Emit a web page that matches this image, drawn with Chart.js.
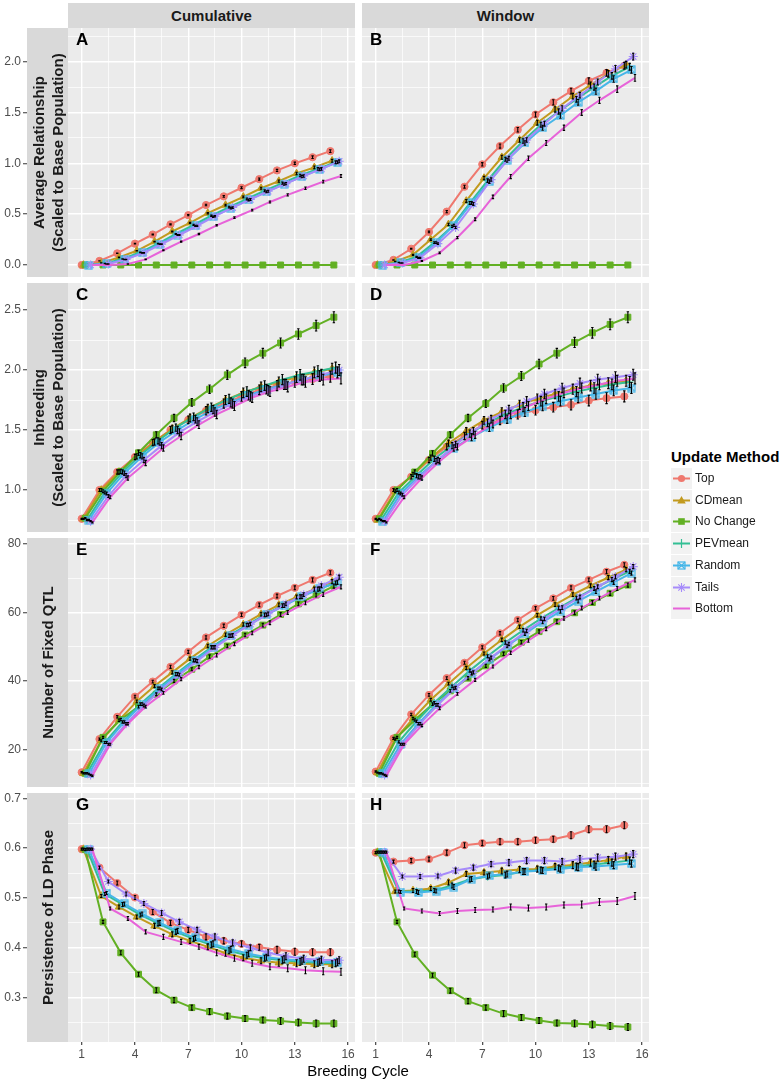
<!DOCTYPE html>
<html>
<head>
<meta charset="utf-8">
<script src="https://cdn.jsdelivr.net/npm/chart.js@4.4.1/dist/chart.umd.min.js"></script>
<style>
  body { margin: 0; background: #fff; font-family: 'Liberation Sans', Arial, sans-serif; }
  #page { position: relative; width: 783px; height: 1083px; overflow: hidden; background: #fff; }
  #page canvas { position: absolute; }
  .strip { position: absolute; background: #D9D9D9; color: #1A1A1A; font-weight: bold; font-size: 15px;
           display: flex; align-items: center; justify-content: center; text-align: center; }
  .vstrip { line-height: 19px; transform: rotate(-90deg); background: none; }
  .letter { position: absolute; font-weight: bold; font-size: 17px; line-height: 17px; color: #000; }
  .legend-title { position: absolute; left: 671px; top: 448px; font-weight: bold; font-size: 15px; line-height: 18px; color: #000; }
  .legend-item { position: absolute; left: 671px; height: 21px; font-size: 12px; line-height: 21px; color: #1A1A1A; white-space: nowrap; }
  .legend-item svg { position: absolute; left: 0; top: 0; }
  .legend-item span { position: absolute; left: 24px; top: 0; }
  .xtitle { position: absolute; left: 258px; width: 200px; top: 1062px; text-align: center; font-size: 15px; line-height: 18px; color: #000; }
</style>
</head>
<body>
<div id="page"></div>
<script>
// ---- data ----
const cycles = [1, 2, 3, 4, 5, 6, 7, 8, 9, 10, 11, 12, 13, 14, 15];
const methods = ['Top', 'CDmean', 'No Change', 'PEVmean', 'Random', 'Tails', 'Bottom'];
const facets = ['Cumulative', 'Window'];

const xMajor = [1, 4, 7, 10, 13, 16];
const xMinor = [2.5, 5.5, 8.5, 11.5, 14.5];

const relMajor = [0, 0.5, 1, 1.5, 2];
const relMinor = [0.25, 0.75, 1.25, 1.75, 2.25];
const inbMajor = [1, 1.5, 2, 2.5];
const inbMinor = [0.75, 1.25, 1.75, 2.25];
const qtlMajor = [20, 40, 60, 80];
const qtlMinor = [10, 30, 50, 70];
const ldMajor = [0.3, 0.4, 0.5, 0.6, 0.7];
const ldMinor = [0.25, 0.35, 0.45, 0.55, 0.65];

// Average relationship, cumulative (A) - one row per method
const relCum = [
  [0, 0.04, 0.115, 0.21, 0.30, 0.40, 0.49, 0.59, 0.675, 0.76, 0.845, 0.93, 1.0, 1.06, 1.12],
  [0, 0.02, 0.075, 0.14, 0.23, 0.33, 0.415, 0.51, 0.59, 0.67, 0.755, 0.825, 0.90, 0.96, 1.025],
  [0, 0, 0, 0, 0, 0, 0, 0, 0, 0, 0, 0, 0, 0, 0],
  [0, 0.015, 0.06, 0.125, 0.21, 0.305, 0.395, 0.485, 0.57, 0.65, 0.73, 0.805, 0.88, 0.945, 1.01],
  [0, 0.01, 0.055, 0.12, 0.205, 0.295, 0.385, 0.475, 0.56, 0.64, 0.72, 0.795, 0.87, 0.94, 1.01],
  [0, 0.01, 0.055, 0.12, 0.205, 0.295, 0.385, 0.48, 0.565, 0.645, 0.725, 0.80, 0.875, 0.945, 1.02],
  [0, 0, 0.01, 0.055, 0.145, 0.23, 0.305, 0.39, 0.465, 0.54, 0.62, 0.69, 0.755, 0.82, 0.875]
];
const relCumErr = [0, 0.001, 0.002, 0.003, 0.004, 0.005, 0.006, 0.007, 0.008, 0.009, 0.01, 0.011, 0.012, 0.013, 0.014];

// Average relationship, window (B)
const relWin = [
  [0, 0.05, 0.16, 0.325, 0.525, 0.77, 0.99, 1.17, 1.33, 1.48, 1.60, 1.71, 1.81, 1.89, 1.96],
  [0, 0.035, 0.10, 0.25, 0.40, 0.63, 0.855, 1.06, 1.23, 1.40, 1.53, 1.66, 1.77, 1.88, 1.97],
  [0, 0, 0, 0, 0, 0, 0, 0, 0, 0, 0, 0, 0, 0, 0],
  [0, 0.025, 0.08, 0.22, 0.38, 0.61, 0.83, 1.04, 1.22, 1.38, 1.51, 1.63, 1.75, 1.86, 1.95],
  [0, 0.02, 0.07, 0.22, 0.39, 0.61, 0.82, 1.03, 1.20, 1.35, 1.47, 1.60, 1.71, 1.83, 1.92],
  [0, 0.02, 0.07, 0.21, 0.37, 0.60, 0.84, 1.05, 1.23, 1.39, 1.54, 1.67, 1.80, 1.93, 2.05],
  [0, 0, 0.04, 0.12, 0.27, 0.45, 0.67, 0.87, 1.05, 1.20, 1.35, 1.50, 1.62, 1.73, 1.84]
];
const relWinErr = [0, 0.002, 0.005, 0.008, 0.011, 0.014, 0.017, 0.02, 0.022, 0.024, 0.026, 0.028, 0.03, 0.032, 0.033];

// Inbreeding, cumulative (C)
const inbCum = [
  [0.76, 1.0, 1.15, 1.275, 1.395, 1.50, 1.585, 1.66, 1.72, 1.78, 1.835, 1.87, 1.90, 1.925, 1.945],
  [0.76, 1.0, 1.15, 1.28, 1.40, 1.51, 1.60, 1.68, 1.75, 1.81, 1.86, 1.90, 1.94, 1.98, 2.01],
  [0.765, 0.99, 1.155, 1.31, 1.46, 1.60, 1.73, 1.84, 1.96, 2.06, 2.14, 2.225, 2.30, 2.37, 2.44],
  [0.75, 0.98, 1.15, 1.29, 1.41, 1.52, 1.61, 1.69, 1.76, 1.82, 1.87, 1.92, 1.96, 1.99, 2.02],
  [0.75, 0.97, 1.14, 1.28, 1.40, 1.50, 1.59, 1.67, 1.73, 1.79, 1.84, 1.88, 1.92, 1.95, 1.98],
  [0.74, 0.95, 1.12, 1.25, 1.37, 1.48, 1.57, 1.65, 1.72, 1.78, 1.83, 1.88, 1.92, 1.96, 2.0],
  [0.73, 0.94, 1.10, 1.225, 1.35, 1.45, 1.545, 1.63, 1.70, 1.77, 1.82, 1.86, 1.90, 1.92, 1.93]
];
const inbCumErr = [0.005, 0.012, 0.018, 0.022, 0.026, 0.03, 0.032, 0.035, 0.038, 0.04, 0.04, 0.042, 0.044, 0.045, 0.046];

// Inbreeding, window (D)
const inbWin = [
  [0.76, 1.0, 1.11, 1.25, 1.36, 1.45, 1.54, 1.58, 1.63, 1.665, 1.69, 1.71, 1.745, 1.765, 1.78],
  [0.75, 0.99, 1.13, 1.27, 1.39, 1.49, 1.58, 1.65, 1.71, 1.76, 1.80, 1.84, 1.87, 1.89, 1.91],
  [0.76, 1.0, 1.15, 1.305, 1.46, 1.60, 1.72, 1.85, 1.95, 2.05, 2.14, 2.23, 2.31, 2.38, 2.44],
  [0.75, 0.98, 1.12, 1.26, 1.37, 1.47, 1.56, 1.63, 1.69, 1.74, 1.78, 1.82, 1.85, 1.88, 1.90],
  [0.74, 0.97, 1.11, 1.24, 1.35, 1.44, 1.52, 1.59, 1.65, 1.70, 1.74, 1.77, 1.80, 1.83, 1.85],
  [0.74, 0.96, 1.11, 1.25, 1.38, 1.49, 1.59, 1.67, 1.74, 1.80, 1.85, 1.89, 1.92, 1.94, 1.96],
  [0.73, 0.94, 1.10, 1.24, 1.36, 1.46, 1.55, 1.63, 1.70, 1.76, 1.81, 1.85, 1.88, 1.91, 1.93]
];
const inbWinErr = [0.005, 0.012, 0.018, 0.022, 0.026, 0.03, 0.032, 0.035, 0.038, 0.04, 0.04, 0.042, 0.044, 0.045, 0.046];

// Number of fixed QTL, cumulative (E)
const qtlCum = [
  [13.3, 23.0, 29.5, 35.4, 39.8, 44.1, 48.5, 52.7, 56.1, 59.3, 62.2, 64.8, 67.2, 69.5, 71.6],
  [13.0, 22.5, 28.5, 34.0, 38.5, 42.5, 46.5, 50.2, 53.5, 56.5, 59.5, 62.2, 64.5, 66.8, 69.0],
  [13.0, 23.5, 28.7, 32.5, 36.1, 40.0, 43.4, 47.1, 50.2, 53.4, 56.3, 59.4, 62.5, 65.1, 67.7],
  [13.0, 22.0, 28.0, 33.2, 37.8, 42.0, 46.0, 49.8, 53.2, 56.3, 59.3, 62.0, 64.6, 66.8, 68.6],
  [12.8, 22.0, 28.0, 33.2, 37.8, 42.0, 46.0, 49.8, 53.2, 56.3, 59.3, 62.0, 64.6, 66.9, 68.8],
  [12.5, 21.5, 27.5, 32.8, 37.5, 41.8, 45.8, 49.8, 53.3, 56.6, 59.6, 62.5, 65.2, 67.8, 70.3],
  [12.3, 21.5, 27.5, 32.5, 36.5, 40.5, 44.0, 47.5, 50.8, 54.0, 57.0, 60.0, 62.8, 65.3, 67.5]
];
const qtlCumErr = [0.2, 0.3, 0.35, 0.4, 0.4, 0.45, 0.45, 0.5, 0.5, 0.5, 0.55, 0.55, 0.55, 0.6, 0.6];

// Number of fixed QTL, window (F)
const qtlWin = [
  [13.5, 23.2, 30.2, 35.9, 40.8, 45.3, 49.8, 53.9, 57.8, 61.2, 64.1, 67.2, 69.5, 71.9, 73.9],
  [13.2, 23.0, 29.0, 34.5, 39.2, 43.8, 48.0, 52.0, 55.8, 59.2, 62.3, 65.2, 67.8, 70.2, 72.5],
  [13.0, 23.5, 28.6, 33.2, 37.1, 40.8, 44.4, 47.9, 51.3, 54.4, 57.3, 59.9, 62.9, 65.6, 68.0],
  [13.0, 22.2, 28.2, 33.6, 38.4, 43.0, 47.2, 51.2, 54.8, 58.2, 61.3, 64.2, 67.0, 69.6, 72.0],
  [12.8, 21.5, 27.5, 33.0, 37.8, 42.2, 46.3, 50.2, 53.8, 57.2, 60.3, 63.3, 66.1, 68.8, 71.5],
  [12.5, 21.5, 27.5, 33.0, 38.0, 42.5, 46.8, 50.8, 54.6, 58.1, 61.4, 64.5, 67.5, 70.4, 73.4],
  [12.3, 21.5, 27.0, 32.0, 36.2, 40.3, 44.2, 48.2, 51.8, 55.2, 58.3, 61.3, 64.2, 67.0, 69.5]
];
const qtlWinErr = [0.2, 0.3, 0.35, 0.4, 0.4, 0.45, 0.45, 0.5, 0.5, 0.5, 0.55, 0.55, 0.55, 0.6, 0.6];

// Persistence of LD phase, cumulative (G)
const ldCum = [
  [0.598, 0.561, 0.530, 0.501, 0.472, 0.450, 0.436, 0.422, 0.414, 0.408, 0.401, 0.396, 0.392, 0.391, 0.391],
  [0.598, 0.504, 0.482, 0.462, 0.444, 0.427, 0.414, 0.402, 0.389, 0.380, 0.374, 0.370, 0.369, 0.367, 0.367],
  [0.597, 0.452, 0.390, 0.347, 0.315, 0.295, 0.280, 0.272, 0.263, 0.258, 0.255, 0.253, 0.250, 0.248, 0.248],
  [0.598, 0.508, 0.487, 0.466, 0.449, 0.432, 0.418, 0.406, 0.394, 0.385, 0.379, 0.375, 0.372, 0.370, 0.369],
  [0.598, 0.510, 0.488, 0.468, 0.450, 0.434, 0.420, 0.408, 0.397, 0.388, 0.381, 0.377, 0.374, 0.372, 0.371],
  [0.598, 0.533, 0.508, 0.489, 0.470, 0.452, 0.436, 0.422, 0.410, 0.400, 0.390, 0.383, 0.378, 0.376, 0.375],
  [0.598, 0.479, 0.459, 0.432, 0.422, 0.412, 0.402, 0.390, 0.379, 0.369, 0.362, 0.359, 0.355, 0.353, 0.352]
];
const ldCumErr = [0.002, 0.003, 0.004, 0.004, 0.005, 0.005, 0.005, 0.006, 0.006, 0.006, 0.006, 0.007, 0.007, 0.007, 0.007];

// Persistence of LD phase, window (H)
const ldWin = [
  [0.591, 0.573, 0.575, 0.578, 0.591, 0.606, 0.610, 0.613, 0.613, 0.616, 0.618, 0.626, 0.638, 0.638, 0.646],
  [0.592, 0.513, 0.515, 0.519, 0.531, 0.548, 0.551, 0.554, 0.557, 0.558, 0.563, 0.566, 0.571, 0.576, 0.583],
  [0.592, 0.452, 0.387, 0.345, 0.314, 0.293, 0.280, 0.268, 0.260, 0.254, 0.249, 0.248, 0.246, 0.243, 0.241],
  [0.592, 0.513, 0.513, 0.515, 0.525, 0.537, 0.543, 0.546, 0.553, 0.556, 0.560, 0.563, 0.567, 0.571, 0.575],
  [0.592, 0.512, 0.511, 0.514, 0.522, 0.538, 0.545, 0.548, 0.553, 0.555, 0.558, 0.562, 0.563, 0.566, 0.569],
  [0.592, 0.543, 0.543, 0.544, 0.555, 0.561, 0.568, 0.571, 0.575, 0.575, 0.573, 0.578, 0.581, 0.583, 0.588],
  [0.592, 0.479, 0.474, 0.469, 0.474, 0.476, 0.477, 0.482, 0.480, 0.482, 0.486, 0.487, 0.492, 0.494, 0.504]
];
const ldWinErr = [0.002, 0.003, 0.004, 0.004, 0.005, 0.005, 0.005, 0.006, 0.006, 0.006, 0.006, 0.007, 0.007, 0.007, 0.007];

// ---- styling ----
const colors = ['#EF786E', '#C29A1E', '#62B023', '#33BF94', '#46B6E8', '#A68BFA', '#E763D9'];
const dodge = [0, 0.1, 0.2, 0.3, 0.4, 0.5, 0.6];

const rows = [
  { title: ['Average Relationship', '(Scaled to Base Population)'], min: -0.118, max: 2.331, major: relMajor, minor: relMinor, digits: 1 },
  { title: ['Inbreeding', '(Scaled to Base Population)'], min: 0.65, max: 2.725, major: inbMajor, minor: inbMinor, digits: 1 },
  { title: ['Number of Fixed QTL'], min: 9.0, max: 81.75, major: qtlMajor, minor: qtlMinor, digits: 0 },
  { title: ['Persistence of LD Phase'], min: 0.211, max: 0.7107, major: ldMajor, minor: ldMinor, digits: 1 }
];

const panels = [
  { letter: 'A', row: 0, col: 0, data: relCum, err: relCumErr },
  { letter: 'B', row: 0, col: 1, data: relWin, err: relWinErr },
  { letter: 'C', row: 1, col: 0, data: inbCum, err: inbCumErr },
  { letter: 'D', row: 1, col: 1, data: inbWin, err: inbWinErr },
  { letter: 'E', row: 2, col: 0, data: qtlCum, err: qtlCumErr },
  { letter: 'F', row: 2, col: 1, data: qtlWin, err: qtlWinErr },
  { letter: 'G', row: 3, col: 0, data: ldCum, err: ldCumErr },
  { letter: 'H', row: 3, col: 1, data: ldWin, err: ldWinErr }
];

const colX = [68, 362];
const rowY = [28, 283, 538, 793];
const PW = 287, PH = 249, M = 12, XAXIS_H = 22, YAXIS_W = 68;
const xMin = 0.228, xMax = 16.39;

Chart.defaults.font.family = "'Liberation Sans', Arial, sans-serif";

const page = document.getElementById('page');

// boxed-x marker used for "Random"
function boxedCross(color) {
  const c = document.createElement('canvas');
  c.width = 9; c.height = 9;
  const g = c.getContext('2d');
  g.strokeStyle = color;
  g.lineWidth = 1.2;
  g.strokeRect(1, 1, 7, 7);
  g.beginPath();
  g.moveTo(1, 1); g.lineTo(8, 8);
  g.moveTo(8, 1); g.lineTo(1, 8);
  g.stroke();
  return c;
}

const pointStyles = ['circle', 'triangle', 'rect', 'cross', boxedCross(colors[4]), 'star', 'circle'];
const pointRadii = [3.6, 4.3, 4.2, 4, 4.5, 4.5, 0];
const pointBorders = [1, 1, 1, 1.2, 1, 1.1, 0];

const panelBg = {
  id: 'panelBg',
  beforeDraw(chart) {
    const { ctx, chartArea: a } = chart;
    ctx.save();
    ctx.fillStyle = '#EBEBEB';
    ctx.fillRect(a.left, a.top, a.right - a.left, a.bottom - a.top);
    ctx.restore();
  }
};

// black error bars drawn over the lines
const errorBars = {
  id: 'errorBars',
  afterDatasetsDraw(chart) {
    const { ctx } = chart;
    const y = chart.scales.y;
    ctx.save();
    ctx.strokeStyle = '#000';
    ctx.lineWidth = 1.1;
    chart.data.datasets.forEach((ds, di) => {
      const meta = chart.getDatasetMeta(di);
      meta.data.forEach((pt, k) => {
        const v = ds.data[k].y;
        const e = ds.errors[k];
        if (!e || v === 0) return;
        const y1 = y.getPixelForValue(v - e);
        const y2 = y.getPixelForValue(v + e);
        ctx.beginPath();
        ctx.moveTo(pt.x, y1); ctx.lineTo(pt.x, y2);
        ctx.moveTo(pt.x - 1.2, y1); ctx.lineTo(pt.x + 1.2, y1);
        ctx.moveTo(pt.x - 1.2, y2); ctx.lineTo(pt.x + 1.2, y2);
        ctx.stroke();
      });
    });
    ctx.restore();
  }
};

function buildPanel(p) {
  const r = p.row, c = p.col, spec = rows[r];
  const isLeft = c === 0, isBottom = r === 3;
  const cv = document.createElement('canvas');
  const left = isLeft ? 0 : colX[c] - M;
  const top = rowY[r] - M;
  const w = isLeft ? colX[0] + PW + M : PW + 2 * M;
  const h = isBottom ? PH + M + XAXIS_H : PH + 2 * M;
  cv.width = w; cv.height = h;
  cv.style.left = left + 'px';
  cv.style.top = top + 'px';
  cv.style.width = w + 'px';
  cv.style.height = h + 'px';
  page.appendChild(cv);

  const yTicks = spec.major.concat(spec.minor).sort((a, b) => a - b);
  const xTicks = xMajor.concat(xMinor).sort((a, b) => a - b);
  const yIsMinor = v => spec.minor.includes(v);
  const xIsMinor = v => xMinor.includes(v);

  new Chart(cv, {
    type: 'line',
    data: {
      datasets: methods.map((m, i) => ({
        label: m,
        data: cycles.map((cy, k) => ({ x: cy + dodge[i], y: p.data[i][k] })),
        errors: p.err,
        borderColor: colors[i],
        backgroundColor: colors[i],
        borderWidth: 2,
        tension: 0,
        pointStyle: pointStyles[i],
        pointRadius: pointRadii[i],
        pointBorderWidth: pointBorders[i],
        pointBackgroundColor: colors[i],
        pointBorderColor: colors[i],
        order: methods.length - 1 - i
      }))
    },
    options: {
      responsive: false,
      animation: false,
      devicePixelRatio: 1,
      layout: { padding: { left: isLeft ? 0 : M, right: M, top: M, bottom: isBottom ? 0 : M } },
      plugins: { legend: { display: false }, tooltip: { enabled: false } },
      scales: {
        x: {
          type: 'linear',
          min: xMin,
          max: xMax,
          afterBuildTicks: s => { s.ticks = xTicks.map(v => ({ value: v })); },
          afterFit: s => { s.height = isBottom ? XAXIS_H : 0; },
          border: { display: false },
          grid: {
            color: '#FFFFFF',
            lineWidth: ctx => (ctx.tick && xIsMinor(ctx.tick.value)) ? 0.7 : 1.4,
            drawTicks: isBottom,
            tickLength: 3,
            tickWidth: 1.1,
            tickColor: ctx => (ctx.tick && xIsMinor(ctx.tick.value)) ? 'rgba(0,0,0,0)' : '#333333'
          },
          ticks: {
            display: isBottom,
            autoSkip: false,
            maxRotation: 0,
            padding: 2,
            color: '#4D4D4D',
            font: { size: 12 },
            callback: v => xIsMinor(v) ? '' : String(v)
          }
        },
        y: {
          min: spec.min,
          max: spec.max,
          afterBuildTicks: s => { s.ticks = yTicks.map(v => ({ value: v })); },
          afterFit: s => { s.width = isLeft ? YAXIS_W : 0; },
          border: { display: false },
          grid: {
            color: '#FFFFFF',
            lineWidth: ctx => (ctx.tick && yIsMinor(ctx.tick.value)) ? 0.7 : 1.4,
            drawTicks: isLeft,
            tickLength: 45,
            tickWidth: 1.1,
            tickColor: ctx => (ctx.tick && yIsMinor(ctx.tick.value)) ? 'rgba(0,0,0,0)' : '#333333'
          },
          ticks: {
            display: isLeft,
            autoSkip: false,
            padding: 2,
            color: '#4D4D4D',
            font: { size: 12 },
            callback: v => yIsMinor(v) ? '' : v.toFixed(spec.digits)
          }
        }
      }
    },
    plugins: [panelBg, errorBars]
  });

  const lt = document.createElement('div');
  lt.className = 'letter';
  lt.style.left = (colX[c] + 8) + 'px';
  lt.style.top = (rowY[r] + 3) + 'px';
  lt.textContent = p.letter;
  page.appendChild(lt);
}

panels.forEach(buildPanel);

// facet strips on top
facets.forEach((f, c) => {
  const s = document.createElement('div');
  s.className = 'strip';
  s.style.left = colX[c] + 'px';
  s.style.top = '3px';
  s.style.width = PW + 'px';
  s.style.height = '25px';
  s.textContent = f;
  page.appendChild(s);
});

// row strips on the left (between tick labels and panels)
rows.forEach((spec, r) => {
  const bg = document.createElement('div');
  bg.className = 'strip';
  bg.style.left = '27px';
  bg.style.top = rowY[r] + 'px';
  bg.style.width = (colX[0] - 27) + 'px';
  bg.style.height = PH + 'px';
  page.appendChild(bg);

  const t = document.createElement('div');
  t.className = 'strip vstrip';
  t.style.width = PH + 'px';
  t.style.height = '41px';
  t.style.left = (27 + 41 / 2 - PH / 2) + 'px';
  t.style.top = (rowY[r] + PH / 2 - 41 / 2) + 'px';
  t.style.flexDirection = 'column';
  spec.title.forEach(line => {
    const d = document.createElement('div');
    d.textContent = line;
    t.appendChild(d);
  });
  page.appendChild(t);
});

// x axis title
const xt = document.createElement('div');
xt.className = 'xtitle';
xt.textContent = 'Breeding Cycle';
page.appendChild(xt);

// legend
function keyMark(i, col) {
  const cx = 10.5, cy = 10.5;
  switch (i) {
    case 0: return `<circle cx="${cx}" cy="${cy}" r="3.6" fill="${col}"/>`;
    case 1: return `<polygon points="${cx},${cy - 4.5} ${cx + 4.3},${cy + 3} ${cx - 4.3},${cy + 3}" fill="${col}"/>`;
    case 2: return `<rect x="${cx - 3.3}" y="${cy - 3.3}" width="6.6" height="6.6" fill="${col}"/>`;
    case 3: return `<path d="M${cx - 4.5} ${cy}H${cx + 4.5}M${cx} ${cy - 4.5}V${cy + 4.5}" stroke="${col}" stroke-width="1.2"/>`;
    case 4: return `<rect x="${cx - 3.5}" y="${cy - 3.5}" width="7" height="7" fill="none" stroke="${col}" stroke-width="1.2"/>` +
                   `<path d="M${cx - 3.5} ${cy - 3.5}L${cx + 3.5} ${cy + 3.5}M${cx + 3.5} ${cy - 3.5}L${cx - 3.5} ${cy + 3.5}" stroke="${col}" stroke-width="1.1"/>`;
    case 5: return `<path d="M${cx - 4.5} ${cy}H${cx + 4.5}M${cx} ${cy - 4.5}V${cy + 4.5}M${cx - 3.2} ${cy - 3.2}L${cx + 3.2} ${cy + 3.2}M${cx + 3.2} ${cy - 3.2}L${cx - 3.2} ${cy + 3.2}" stroke="${col}" stroke-width="1.1"/>`;
    default: return '';
  }
}

const lgTitle = document.createElement('div');
lgTitle.className = 'legend-title';
lgTitle.textContent = 'Update Method';
page.appendChild(lgTitle);

methods.forEach((m, i) => {
  const item = document.createElement('div');
  item.className = 'legend-item';
  item.style.top = (468 + i * 21.7) + 'px';
  item.innerHTML =
    `<svg width="21" height="21" viewBox="0 0 21 21"><rect width="21" height="21" fill="#F2F2F2"/>` +
    `<line x1="2" y1="10.5" x2="19" y2="10.5" stroke="${colors[i]}" stroke-width="2"/>${keyMark(i, colors[i])}</svg>` +
    `<span>${m}</span>`;
  page.appendChild(item);
});
</script>
</body>
</html>
